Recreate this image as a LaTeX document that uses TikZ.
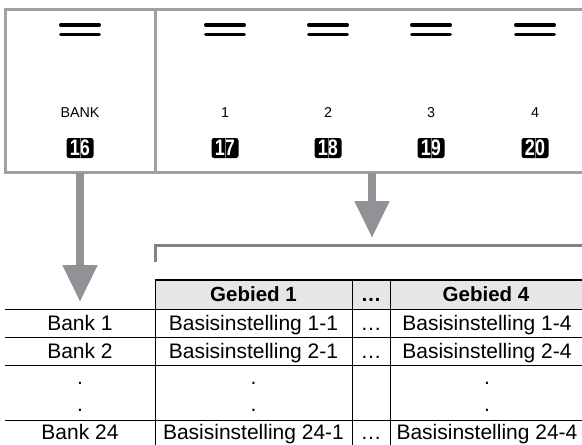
\documentclass[tikz,border=0pt]{standalone}
\usepackage{fontspec}
\usepackage{graphicx}
\setmainfont{Liberation Sans}
\usetikzlibrary{arrows.meta}
\definecolor{framegray}{RGB}{160,160,164}
\definecolor{arrowgray}{RGB}{146,146,150}
\definecolor{headgray}{RGB}{230,230,230}

\begin{document}
\begin{tikzpicture}[x=1pt,y=-1pt,panel/.style={draw=framegray,line width=3pt},bars/.style={line width=3.4pt,line cap=round},lbl/.style={anchor=base,font=\fontsize{14.3}{16}\selectfont},tile/.style={fill=black,rounded corners=2.5pt,text=white,minimum width=27pt,minimum height=20pt,inner sep=0pt,font=\fontsize{22.5}{22}\selectfont\bfseries},big/.style={line width=8pt,draw=arrowgray,-{Triangle[width=33pt,length=37pt]}},cell/.style={anchor=base,font=\fontsize{21}{22}\selectfont},head/.style={anchor=base,font=\fontsize{20.5}{22}\selectfont\bfseries},rule/.style={line width=1pt}]
\useasboundingbox(0,0)rectangle(582,445);

% Top panel: bank button and the four area buttons (open to the right).
\draw[panel](582,9.5)--(5,9.5)--(5,172.5)--(582,172.5);
\draw[panel](155,9.5)--(155,172.5);
\foreach \n/\x/\l/\t in {bank/80/BANK/16,one/225/1/17,two/328/2/18,three/431/3/19,four/535/4/20}{
 \draw[bars](\x-19.3,25)--(\x+19.3,25);
 \draw[bars](\x-19.3,34.5)--(\x+19.3,34.5);
 \node[lbl](l\n)at(\x,117.3){\l};
 \node[tile](t\n)at(\x,148){\scalebox{.8}[1]{\t}};
 \draw[gray,line width=.5pt](t\n.north)--(t\n.south);
}

% Arrows down to the table.
\coordinate(bankfoot)at(80,172.5);
\coordinate(banktip)at(80,302);
\coordinate(areafoot)at(372,172.5);
\coordinate(areatip)at(372,238);
\draw[big](bankfoot)--(banktip);
\draw[big](areafoot)--(areatip);
\draw[draw=arrowgray!90!black,line width=3pt](155,262)--(155,245)--(582,245);

% Table
\fill[headgray](155,281)rectangle(582,308.5);
\draw[line width=2.5pt](155,280)--(582,280);
\foreach \y in {309,337,365,420}{
 \draw[rule](5,\y)--(582,\y);
}
\foreach \x in {155,352,390}{
 \draw[rule](\x,281)--(\x,445);
}
\node[head](hone)at(253.5,301.8){Gebied 1};
\node[head](hdots)at(371,301.8){\dots};
\node[head](hfour)at(486,301.8){Gebied 4};
\foreach \n/\y/\r in {a/330.3/1,b/358.3/2}{
 \node[cell](bank\n)at(80,\y){Bank \r};
 \node[cell](set\n)at(253.5,\y){Basisinstelling \r-1};
 \node[cell](dots\n)at(371,\y){\dots};
 \node[cell](last\n)at(487,\y){Basisinstelling \r-4};
}
\foreach \n/\y in {p/384.5,q/411.5}{
 \node[cell](bd\n)at(80,\y){.};
 \node[cell](sd\n)at(253.5,\y){.};
 \node[cell](ld\n)at(487,\y){.};
}
\node[cell](bankz)at(80,439.8){Bank 24};
\node[cell](setz)at(253.5,439.8){Basisinstelling 24-1};
\node[cell](dotsz)at(371,439.8){\dots};
\node[cell](lastz)at(487,439.8){Basisinstelling 24-4};
\end{tikzpicture}
\end{document}
